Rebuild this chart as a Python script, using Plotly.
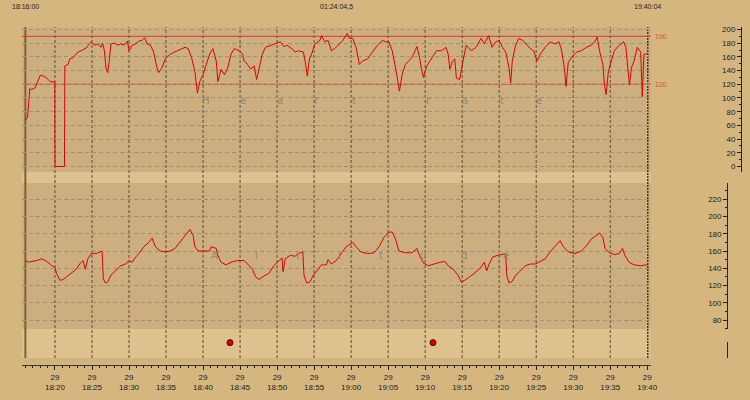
import pandas as pd
import plotly.graph_objects as go

# ---------------- data ----------------
day_start = "2010-05-29 18:16:00"
session_end_min = 84.07   # 19:40:04
header_left = "18:16:00"
header_mid = "01:24:04,5"
header_right = "19:40:04"

# heart rate: minutes after 18:16:00 and bpm
hr_min = [0.0, 0.3, 0.6, 0.8, 1.33, 1.56, 2.0, 2.44, 2.89, 3.33, 3.78, 3.98, 4.0, 5.28, 5.33,
          5.42, 5.78, 6.0, 6.44, 7.11, 7.56, 8.22, 8.89, 9.33, 9.78, 10.22, 10.44, 10.67, 10.89, 11.11,
          11.33, 11.56, 12.0, 12.44, 12.89, 13.33, 13.78, 14.0, 14.44, 14.89, 15.33, 15.78, 16.13, 16.44,
          16.89, 17.33, 17.78, 18.0, 18.44, 18.89, 19.56, 20.22, 20.89, 21.56, 22.0, 22.44, 22.89, 23.11,
          23.24, 23.56, 24.0, 24.44, 24.89, 25.33, 25.78, 26.0, 26.44, 26.89, 27.33, 27.78, 28.22, 28.89,
          29.33, 29.56, 30.0, 30.44, 30.89, 31.24, 31.56, 32.0, 32.44, 33.11, 33.78, 34.44, 34.89, 35.33,
          36.0, 36.44, 36.89, 37.56, 37.78, 38.09, 38.36, 38.67, 39.11, 39.78, 40.0, 40.44, 40.89, 41.33,
          41.78, 42.22, 42.89, 43.46, 43.77, 44.22, 44.66, 45.11, 45.55, 46.22, 46.89, 47.55, 48.22, 48.66,
          49.11, 49.55, 50.0, 50.22, 50.53, 50.89, 51.33, 51.77, 52.22, 52.89, 53.24, 53.55, 53.77, 54.22,
          54.89, 55.55, 56.22, 56.8, 57.11, 57.33, 57.69, 58.0, 58.22, 58.66, 59.11, 59.55, 60.22, 60.89,
          61.55, 62.0, 62.57, 63.02, 63.55, 64.0, 64.44, 64.89, 65.33, 65.55, 65.77, 66.22, 66.66, 67.2,
          67.77, 68.22, 68.66, 69.11, 69.55, 70.22, 70.89, 71.55, 72.09, 72.44, 72.8, 73.02, 73.33, 73.77,
          74.44, 75.11, 75.77, 76.44, 76.89, 77.24, 77.55, 78.0, 78.22, 78.44, 78.75, 79.11, 79.55, 80.22,
          80.8, 81.11, 81.42, 81.6, 81.86, 82.22, 82.66, 83.11, 83.33, 83.55, 83.77, 84.07]
hr_bpm = [68, 72, 114, 112, 115, 122, 133, 132, 129, 124, 123, 123, 0, 0, 147,
          147, 149, 157, 159, 167, 169, 173, 182, 177, 179, 174, 180, 169, 144, 137,
          154, 179, 180, 177, 179, 177, 183, 169, 177, 179, 183, 184, 188, 179,
          177, 167, 144, 137, 144, 157, 164, 167, 170, 174, 172, 159, 139, 119,
          107, 124, 134, 149, 164, 172, 154, 124, 142, 134, 144, 164, 172, 169,
          164, 154, 149, 142, 147, 127, 144, 164, 174, 177, 180, 182, 175, 177,
          172, 167, 169, 167, 154, 132, 157, 164, 179, 184, 191, 182, 184, 169,
          172, 177, 184, 194, 187, 187, 174, 149, 154, 157, 167, 177, 184, 182,
          182, 169, 144, 129, 110, 134, 149, 154, 159, 175, 159, 139, 130, 147,
          159, 169, 169, 174, 164, 142, 154, 157, 129, 127, 154, 177, 169, 174,
          187, 179, 191, 174, 182, 184, 174, 167, 144, 122, 154, 177, 187, 184,
          177, 172, 169, 154, 164, 174, 182, 179, 182, 169, 144, 117, 152, 159,
          167, 169, 174, 177, 182, 189, 169, 149, 119, 105, 139, 154, 169, 177,
          182, 174, 139, 119, 144, 154, 174, 167, 102, 164, 164, 165]

# altitude: minutes after 18:16:00 and value
alt_min = [0.0, 0.44, 0.89, 1.56, 2.22, 2.89, 3.56, 4.0, 4.22, 4.67, 5.11, 5.56, 6.0, 6.44, 6.89,
           7.33, 7.78, 8.09, 8.44, 8.89, 9.56, 10.36, 10.53, 10.8, 11.11, 11.56, 12.22, 12.89, 13.56,
           14.0, 14.44, 14.89, 15.33, 16.0, 16.67, 17.11, 17.56, 18.22, 18.89, 19.56, 20.22, 20.67,
           21.33, 21.78, 22.22, 22.67, 22.89, 23.33, 24.22, 24.89, 25.11, 25.78, 26.0, 26.44, 27.11,
           27.78, 28.67, 29.56, 30.0, 30.67, 31.11, 31.56, 32.22, 32.89, 33.56, 34.22, 34.67, 34.8,
           35.11, 35.78, 36.44, 37.11, 37.47, 37.64, 38.0, 38.44, 38.89, 39.56, 40.0, 40.67, 40.89,
           41.33, 42.0, 42.66, 43.33, 44.22, 44.66, 45.33, 46.22, 47.11, 47.77, 48.44, 49.11, 49.55,
           50.0, 50.44, 51.33, 52.22, 52.89, 53.24, 53.77, 54.44, 55.11, 56.0, 56.66, 57.11, 57.77,
           58.44, 58.88, 59.33, 60.0, 60.66, 61.33, 62.0, 62.31, 62.66, 63.11, 63.77, 64.22, 64.88,
           65.02, 65.33, 65.77, 66.22, 66.88, 67.55, 68.22, 68.88, 69.55, 70.22, 70.88, 71.55, 72.22,
           72.66, 73.33, 74.22, 75.11, 75.77, 76.44, 77.11, 77.55, 78.0, 78.31, 78.88, 79.55, 80.22,
           80.66, 80.97, 81.55, 82.22, 83.11, 83.77, 84.07]
alt_val = [149, 147, 148, 149, 151, 148, 143, 141, 134, 126, 127, 130, 134, 136, 139,
           145, 149, 139, 151, 157, 157, 160, 128, 123, 124, 132, 137, 143, 145,
           149, 147, 153, 157, 165, 170, 175, 165, 160, 159, 160, 163, 168,
           176, 180, 185, 178, 165, 160, 160, 160, 165, 163, 155, 147, 144,
           147, 149, 149, 145, 139, 130, 127, 131, 134, 143, 149, 152, 136,
           151, 155, 154, 158, 159, 132, 123, 124, 132, 139, 144, 144, 150,
           145, 149, 157, 165, 170, 165, 159, 157, 158, 165, 176, 182, 182,
           174, 160, 158, 158, 163, 155, 146, 143, 145, 147, 148, 143, 139,
           132, 124, 126, 130, 134, 139, 147, 137, 145, 153, 155, 156, 157,
           132, 123, 125, 132, 137, 143, 145, 145, 148, 151, 159, 166, 172,
           165, 159, 157, 160, 166, 174, 178, 181, 176, 163, 158, 156, 157,
           163, 155, 147, 144, 143, 144, 144]

event_min = [27.64, 55.06]

hr_limits = [190, 120]
hr_ticks = [0, 20, 40, 60, 80, 100, 120, 140, 160, 180, 200]
alt_ticks = [80, 100, 120, 140, 160, 180, 200, 220]
x_tick_times = ["18:20", "18:25", "18:30", "18:35", "18:40", "18:45", "18:50", "18:55", "19:00",
                "19:05", "19:10", "19:15", "19:20", "19:25", "19:30", "19:35", "19:40"]
x_tick_day = "29"
hr_word = "Heart rate"
alt_word = "Altitude"

# ---------------- build ----------------
t0 = pd.Timestamp(day_start)
to_ts = lambda m: t0 + pd.Timedelta(minutes=m)
hr_x = [to_ts(m) for m in hr_min]
alt_x = [to_ts(m) for m in alt_min]
ev_x = [to_ts(m) for m in event_min]
t_end = to_ts(session_end_min)
tick_vals = [pd.Timestamp(t0.strftime("%Y-%m-%d") + " " + s) for s in x_tick_times]
tick_text = [x_tick_day + "<br>" + s for s in x_tick_times]

W, H = 750, 400
ML, MR, MT, MB = 22, 2, 27, 35
PH = H - MT - MB
PW = W - ML - MR
def py(y):
    return (H - MB - y) / PH
def px(x):
    return (x - ML) / PW

PAPER = "#D5B67F"
LIGHT = "#DDC28E"
SHADE = "#CDAF7F"
FONT = "Liberation Sans"

fig = go.Figure()
fig.add_trace(go.Scatter(x=hr_x, y=hr_bpm, mode="lines", line=dict(color="#E00000", width=1),
                         xaxis="x", yaxis="y", showlegend=False, hoverinfo="skip"))
fig.add_trace(go.Scatter(x=alt_x, y=alt_val, mode="lines", line=dict(color="#E00000", width=1),
                         xaxis="x", yaxis="y2", showlegend=False, hoverinfo="skip"))
fig.add_trace(go.Scatter(x=ev_x, y=[0.96] * len(ev_x), mode="markers", cliponaxis=False,
                         marker=dict(color="#D80000", size=6, line=dict(color="#500000", width=1)),
                         xaxis="x", yaxis="y3", showlegend=False, hoverinfo="skip"))

xdom_end = px(657)
shapes = []
shapes.append(dict(type="rect", xref="x domain", yref="paper", x0=0, x1=1, y0=py(358), y1=py(172),
                   fillcolor=LIGHT, line=dict(width=0), layer="below"))
shapes.append(dict(type="rect", xref="x domain", yref="paper", x0=0, x1=1, y0=py(364), y1=py(358),
                   fillcolor="#D2B47F", line=dict(width=0), layer="below"))
shapes.append(dict(type="rect", xref="x domain", yref="paper", x0=0, x1=1, y0=py(172), y1=py(27),
                   fillcolor=SHADE, line=dict(width=0), layer="below"))
shapes.append(dict(type="rect", xref="x domain", yref="paper", x0=0, x1=1, y0=py(329), y1=py(183),
                   fillcolor=SHADE, line=dict(width=0), layer="below"))
for tv in tick_vals[:-1]:
    shapes.append(dict(type="line", xref="x", yref="paper", x0=tv, x1=tv, y0=py(358), y1=py(27),
                       line=dict(color="#5A4C36", width=1, dash="3px,2px"), layer="below"))
shapes.append(dict(type="line", xref="x", yref="paper", x0=t0, x1=t0, y0=py(358), y1=py(27),
                   line=dict(color="#7E6230", width=2), layer="below"))
shapes.append(dict(type="line", xref="x", yref="paper", x0=t_end, x1=t_end, y0=py(358), y1=py(27),
                   line=dict(color="#4A3A20", width=1.5, dash="2px,1px"), layer="below"))
for v in hr_limits:
    shapes.append(dict(type="line", xref="x domain", yref="y", x0=0, x1=1, y0=v, y1=v,
                       line=dict(color="#E03A28", width=1), layer="below"))

ann = []
for txt, tx in [(header_left, t0), (header_mid, to_ts(session_end_min / 2)), (header_right, t_end)]:
    ann.append(dict(text=txt, xref="x", yref="paper", x=tx, y=py(6), showarrow=False,
                    xanchor="center", yanchor="middle", font=dict(size=7, color="#222", family=FONT)))
for v in hr_limits:
    ann.append(dict(text=str(v), xref="x domain", yref="y", x=1, y=v, xanchor="left", xshift=2,
                    showarrow=False, yanchor="middle", font=dict(size=7, color="#E04A30", family=FONT)))
for i, ch in enumerate(hr_word):
    if ch.strip():
        ann.append(dict(text=ch, xref="x", yref="y", x=to_ts(24.39 + 5 * i), y=97, showarrow=False,
                        font=dict(size=10, color="#8C877E", family="DejaVu Sans")))
for i, ch in enumerate(alt_word):
    ann.append(dict(text=ch, xref="x", yref="y2", x=to_ts(25.6 + 5.61 * i), y=155, showarrow=False,
                    font=dict(size=10, color="#8C877E", family="DejaVu Sans")))

grid_common = dict(showgrid=True, gridcolor="#9C917C", griddash="4px,3px", gridwidth=1, zeroline=False)
tickfont = dict(size=8, color="#222", family=FONT)

fig.update_layout(
    width=W, height=H,
    margin=dict(l=ML, r=MR, t=MT, b=MB, pad=0),
    paper_bgcolor=PAPER, plot_bgcolor="rgba(0,0,0,0)",
    showlegend=False,
    shapes=shapes, annotations=ann,
    xaxis=dict(type="date", domain=[0, xdom_end], anchor="free", position=0,
               range=[to_ts(-0.455), to_ts(84.49)],
               tickmode="array", tickvals=tick_vals, ticktext=tick_text,
               ticks="outside", ticklen=4, tickcolor="#222", tickfont=tickfont,
               minor=dict(ticks="outside", ticklen=2, tickcolor="#222", dtick=60000,
                          tick0=tick_vals[0], showgrid=False),
               showline=True, linecolor="#333", linewidth=1, showgrid=False, zeroline=False),
    yaxis=dict(domain=[py(172), py(27)], range=[-8.0, 203.6], anchor="free", position=1.0, side="left",
               tickmode="array", tickvals=hr_ticks, ticks="outside", ticklen=4, tickcolor="#222",
               tickfont=tickfont, showline=True, linecolor="#222", linewidth=1,
               minor=dict(ticks="outside", ticklen=2, tickcolor="#222", dtick=10, showgrid=False),
               **grid_common),
    yaxis2=dict(domain=[py(329), py(183)], range=[69.6, 238.9], anchor="free", position=px(734),
                side="left", tickmode="array", tickvals=alt_ticks, ticks="outside", ticklen=4,
                tickcolor="#222", tickfont=tickfont, showline=True, linecolor="#222", linewidth=1,
                minor=dict(ticks="outside", ticklen=2, tickcolor="#222", dtick=10, showgrid=False),
                **grid_common),
    yaxis3=dict(domain=[py(358), py(342)], range=[0, 1], anchor="free", position=px(734), side="left",
                showline=True, linecolor="#222", linewidth=1, showticklabels=False, ticks="",
                showgrid=False, zeroline=False),
)

fig.write_html("out.html", config={"displayModeBar": False},
               post_script="document.body.style.margin='0';document.body.style.padding='0';"
                           "document.body.style.background='%s';" % PAPER)
